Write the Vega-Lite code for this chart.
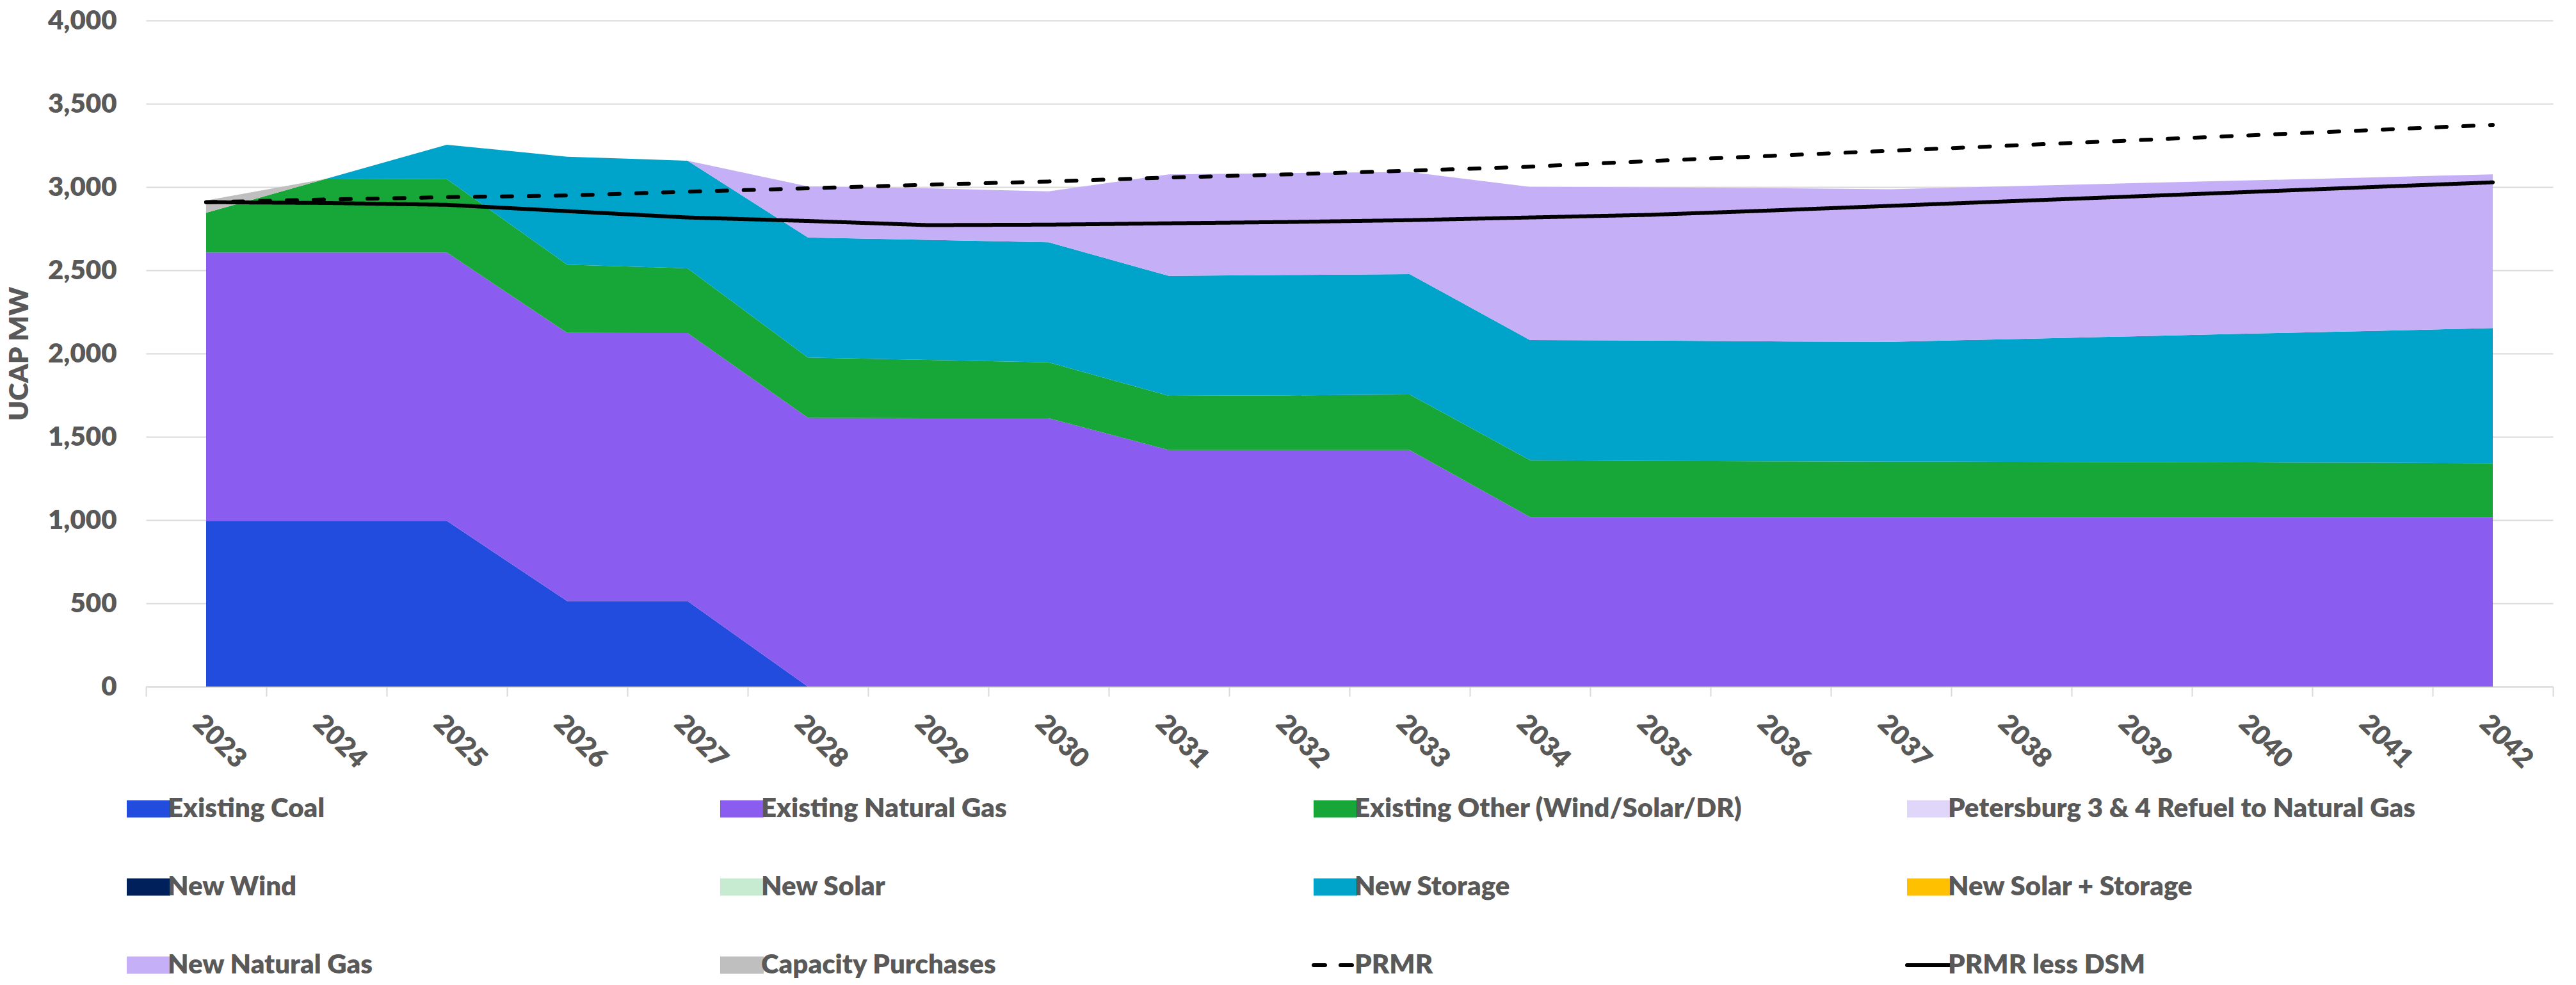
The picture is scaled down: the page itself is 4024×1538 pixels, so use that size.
{
  "$schema": "https://vega.github.io/schema/vega-lite/v6.json",
  "width": 3760,
  "height": 1040,
  "autosize": {"type": "none"},
  "padding": {"left": 228, "top": 32, "right": 36, "bottom": 466},
  "background": "#ffffff",
  "config": {
    "view": {"stroke": null},
    "font": "Lato",
    "axis": {
      "labelFont": "Lato",
      "labelFontSize": 42,
      "labelFontWeight": 800,
      "labelColor": "#595959",
      "titleFont": "Lato",
      "titleFontSize": 42,
      "titleFontWeight": 800,
      "titleColor": "#595959",
      "gridColor": "#D9D9D9",
      "gridWidth": 2,
      "domainColor": "#D9D9D9",
      "domainWidth": 2,
      "tickColor": "#D9D9D9",
      "tickWidth": 2
    },
    "legend": {
      "orient": "none",
      "direction": "horizontal",
      "legendX": -17,
      "legendY": 1210,
      "columns": 4,
      "gridAlign": "all",
      "columnPadding": 120,
      "rowPadding": 80,
      "labelFont": "Lato",
      "labelFontSize": 42,
      "labelFontWeight": 800,
      "labelColor": "#595959",
      "labelOffset": 9,
      "labelLimit": 2000,
      "symbolSize": 4624,
      "symbolType": "M-1,-0.4H1V0.4H-1Z",
      "symbolLimit": 0
    }
  },
  "datasets": {
    "capacity": [
      {"year": "2023", "series": "Existing Coal", "mw": 995},
      {"year": "2024", "series": "Existing Coal", "mw": 995},
      {"year": "2025", "series": "Existing Coal", "mw": 995},
      {"year": "2026", "series": "Existing Coal", "mw": 513},
      {"year": "2027", "series": "Existing Coal", "mw": 513},
      {"year": "2028", "series": "Existing Coal", "mw": 0},
      {"year": "2029", "series": "Existing Coal", "mw": 0},
      {"year": "2030", "series": "Existing Coal", "mw": 0},
      {"year": "2031", "series": "Existing Coal", "mw": 0},
      {"year": "2032", "series": "Existing Coal", "mw": 0},
      {"year": "2033", "series": "Existing Coal", "mw": 0},
      {"year": "2034", "series": "Existing Coal", "mw": 0},
      {"year": "2035", "series": "Existing Coal", "mw": 0},
      {"year": "2036", "series": "Existing Coal", "mw": 0},
      {"year": "2037", "series": "Existing Coal", "mw": 0},
      {"year": "2038", "series": "Existing Coal", "mw": 0},
      {"year": "2039", "series": "Existing Coal", "mw": 0},
      {"year": "2040", "series": "Existing Coal", "mw": 0},
      {"year": "2041", "series": "Existing Coal", "mw": 0},
      {"year": "2042", "series": "Existing Coal", "mw": 0},

      {"year": "2023", "series": "Existing Natural Gas", "mw": 1612},
      {"year": "2024", "series": "Existing Natural Gas", "mw": 1612},
      {"year": "2025", "series": "Existing Natural Gas", "mw": 1612},
      {"year": "2026", "series": "Existing Natural Gas", "mw": 1611},
      {"year": "2027", "series": "Existing Natural Gas", "mw": 1610},
      {"year": "2028", "series": "Existing Natural Gas", "mw": 1614},
      {"year": "2029", "series": "Existing Natural Gas", "mw": 1612},
      {"year": "2030", "series": "Existing Natural Gas", "mw": 1612},
      {"year": "2031", "series": "Existing Natural Gas", "mw": 1420},
      {"year": "2032", "series": "Existing Natural Gas", "mw": 1420},
      {"year": "2033", "series": "Existing Natural Gas", "mw": 1420},
      {"year": "2034", "series": "Existing Natural Gas", "mw": 1018},
      {"year": "2035", "series": "Existing Natural Gas", "mw": 1018},
      {"year": "2036", "series": "Existing Natural Gas", "mw": 1018},
      {"year": "2037", "series": "Existing Natural Gas", "mw": 1018},
      {"year": "2038", "series": "Existing Natural Gas", "mw": 1018},
      {"year": "2039", "series": "Existing Natural Gas", "mw": 1018},
      {"year": "2040", "series": "Existing Natural Gas", "mw": 1018},
      {"year": "2041", "series": "Existing Natural Gas", "mw": 1018},
      {"year": "2042", "series": "Existing Natural Gas", "mw": 1018},

      {"year": "2023", "series": "Existing Other (Wind/Solar/DR)", "mw": 238},
      {"year": "2024", "series": "Existing Other (Wind/Solar/DR)", "mw": 443},
      {"year": "2025", "series": "Existing Other (Wind/Solar/DR)", "mw": 440},
      {"year": "2026", "series": "Existing Other (Wind/Solar/DR)", "mw": 410},
      {"year": "2027", "series": "Existing Other (Wind/Solar/DR)", "mw": 389},
      {"year": "2028", "series": "Existing Other (Wind/Solar/DR)", "mw": 362},
      {"year": "2029", "series": "Existing Other (Wind/Solar/DR)", "mw": 350},
      {"year": "2030", "series": "Existing Other (Wind/Solar/DR)", "mw": 335},
      {"year": "2031", "series": "Existing Other (Wind/Solar/DR)", "mw": 326},
      {"year": "2032", "series": "Existing Other (Wind/Solar/DR)", "mw": 329},
      {"year": "2033", "series": "Existing Other (Wind/Solar/DR)", "mw": 334},
      {"year": "2034", "series": "Existing Other (Wind/Solar/DR)", "mw": 342},
      {"year": "2035", "series": "Existing Other (Wind/Solar/DR)", "mw": 337},
      {"year": "2036", "series": "Existing Other (Wind/Solar/DR)", "mw": 335},
      {"year": "2037", "series": "Existing Other (Wind/Solar/DR)", "mw": 333},
      {"year": "2038", "series": "Existing Other (Wind/Solar/DR)", "mw": 332},
      {"year": "2039", "series": "Existing Other (Wind/Solar/DR)", "mw": 330},
      {"year": "2040", "series": "Existing Other (Wind/Solar/DR)", "mw": 328},
      {"year": "2041", "series": "Existing Other (Wind/Solar/DR)", "mw": 326},
      {"year": "2042", "series": "Existing Other (Wind/Solar/DR)", "mw": 323},

      {"year": "2023", "series": "Petersburg 3 & 4 Refuel to Natural Gas", "mw": 0},
      {"year": "2024", "series": "Petersburg 3 & 4 Refuel to Natural Gas", "mw": 0},
      {"year": "2025", "series": "Petersburg 3 & 4 Refuel to Natural Gas", "mw": 0},
      {"year": "2026", "series": "Petersburg 3 & 4 Refuel to Natural Gas", "mw": 0},
      {"year": "2027", "series": "Petersburg 3 & 4 Refuel to Natural Gas", "mw": 0},
      {"year": "2028", "series": "Petersburg 3 & 4 Refuel to Natural Gas", "mw": 0},
      {"year": "2029", "series": "Petersburg 3 & 4 Refuel to Natural Gas", "mw": 0},
      {"year": "2030", "series": "Petersburg 3 & 4 Refuel to Natural Gas", "mw": 0},
      {"year": "2031", "series": "Petersburg 3 & 4 Refuel to Natural Gas", "mw": 0},
      {"year": "2032", "series": "Petersburg 3 & 4 Refuel to Natural Gas", "mw": 0},
      {"year": "2033", "series": "Petersburg 3 & 4 Refuel to Natural Gas", "mw": 0},
      {"year": "2034", "series": "Petersburg 3 & 4 Refuel to Natural Gas", "mw": 0},
      {"year": "2035", "series": "Petersburg 3 & 4 Refuel to Natural Gas", "mw": 0},
      {"year": "2036", "series": "Petersburg 3 & 4 Refuel to Natural Gas", "mw": 0},
      {"year": "2037", "series": "Petersburg 3 & 4 Refuel to Natural Gas", "mw": 0},
      {"year": "2038", "series": "Petersburg 3 & 4 Refuel to Natural Gas", "mw": 0},
      {"year": "2039", "series": "Petersburg 3 & 4 Refuel to Natural Gas", "mw": 0},
      {"year": "2040", "series": "Petersburg 3 & 4 Refuel to Natural Gas", "mw": 0},
      {"year": "2041", "series": "Petersburg 3 & 4 Refuel to Natural Gas", "mw": 0},
      {"year": "2042", "series": "Petersburg 3 & 4 Refuel to Natural Gas", "mw": 0},

      {"year": "2023", "series": "New Wind", "mw": 0},
      {"year": "2024", "series": "New Wind", "mw": 0},
      {"year": "2025", "series": "New Wind", "mw": 0},
      {"year": "2026", "series": "New Wind", "mw": 0},
      {"year": "2027", "series": "New Wind", "mw": 0},
      {"year": "2028", "series": "New Wind", "mw": 0},
      {"year": "2029", "series": "New Wind", "mw": 0},
      {"year": "2030", "series": "New Wind", "mw": 0},
      {"year": "2031", "series": "New Wind", "mw": 0},
      {"year": "2032", "series": "New Wind", "mw": 0},
      {"year": "2033", "series": "New Wind", "mw": 0},
      {"year": "2034", "series": "New Wind", "mw": 0},
      {"year": "2035", "series": "New Wind", "mw": 0},
      {"year": "2036", "series": "New Wind", "mw": 0},
      {"year": "2037", "series": "New Wind", "mw": 0},
      {"year": "2038", "series": "New Wind", "mw": 0},
      {"year": "2039", "series": "New Wind", "mw": 0},
      {"year": "2040", "series": "New Wind", "mw": 0},
      {"year": "2041", "series": "New Wind", "mw": 0},
      {"year": "2042", "series": "New Wind", "mw": 0},

      {"year": "2023", "series": "New Solar", "mw": 0},
      {"year": "2024", "series": "New Solar", "mw": 0},
      {"year": "2025", "series": "New Solar", "mw": 0},
      {"year": "2026", "series": "New Solar", "mw": 0},
      {"year": "2027", "series": "New Solar", "mw": 0},
      {"year": "2028", "series": "New Solar", "mw": 0},
      {"year": "2029", "series": "New Solar", "mw": 0},
      {"year": "2030", "series": "New Solar", "mw": 0},
      {"year": "2031", "series": "New Solar", "mw": 0},
      {"year": "2032", "series": "New Solar", "mw": 0},
      {"year": "2033", "series": "New Solar", "mw": 0},
      {"year": "2034", "series": "New Solar", "mw": 0},
      {"year": "2035", "series": "New Solar", "mw": 0},
      {"year": "2036", "series": "New Solar", "mw": 0},
      {"year": "2037", "series": "New Solar", "mw": 0},
      {"year": "2038", "series": "New Solar", "mw": 0},
      {"year": "2039", "series": "New Solar", "mw": 0},
      {"year": "2040", "series": "New Solar", "mw": 0},
      {"year": "2041", "series": "New Solar", "mw": 0},
      {"year": "2042", "series": "New Solar", "mw": 0},

      {"year": "2023", "series": "New Storage", "mw": 0},
      {"year": "2024", "series": "New Storage", "mw": 0},
      {"year": "2025", "series": "New Storage", "mw": 207},
      {"year": "2026", "series": "New Storage", "mw": 648},
      {"year": "2027", "series": "New Storage", "mw": 646},
      {"year": "2028", "series": "New Storage", "mw": 721},
      {"year": "2029", "series": "New Storage", "mw": 721},
      {"year": "2030", "series": "New Storage", "mw": 721},
      {"year": "2031", "series": "New Storage", "mw": 720},
      {"year": "2032", "series": "New Storage", "mw": 723},
      {"year": "2033", "series": "New Storage", "mw": 723},
      {"year": "2034", "series": "New Storage", "mw": 721},
      {"year": "2035", "series": "New Storage", "mw": 723},
      {"year": "2036", "series": "New Storage", "mw": 720},
      {"year": "2037", "series": "New Storage", "mw": 719},
      {"year": "2038", "series": "New Storage", "mw": 737},
      {"year": "2039", "series": "New Storage", "mw": 755},
      {"year": "2040", "series": "New Storage", "mw": 774},
      {"year": "2041", "series": "New Storage", "mw": 792},
      {"year": "2042", "series": "New Storage", "mw": 812},

      {"year": "2023", "series": "New Solar + Storage", "mw": 0},
      {"year": "2024", "series": "New Solar + Storage", "mw": 0},
      {"year": "2025", "series": "New Solar + Storage", "mw": 0},
      {"year": "2026", "series": "New Solar + Storage", "mw": 0},
      {"year": "2027", "series": "New Solar + Storage", "mw": 0},
      {"year": "2028", "series": "New Solar + Storage", "mw": 0},
      {"year": "2029", "series": "New Solar + Storage", "mw": 0},
      {"year": "2030", "series": "New Solar + Storage", "mw": 0},
      {"year": "2031", "series": "New Solar + Storage", "mw": 0},
      {"year": "2032", "series": "New Solar + Storage", "mw": 0},
      {"year": "2033", "series": "New Solar + Storage", "mw": 0},
      {"year": "2034", "series": "New Solar + Storage", "mw": 0},
      {"year": "2035", "series": "New Solar + Storage", "mw": 0},
      {"year": "2036", "series": "New Solar + Storage", "mw": 0},
      {"year": "2037", "series": "New Solar + Storage", "mw": 0},
      {"year": "2038", "series": "New Solar + Storage", "mw": 0},
      {"year": "2039", "series": "New Solar + Storage", "mw": 0},
      {"year": "2040", "series": "New Solar + Storage", "mw": 0},
      {"year": "2041", "series": "New Solar + Storage", "mw": 0},
      {"year": "2042", "series": "New Solar + Storage", "mw": 0},

      {"year": "2023", "series": "New Natural Gas", "mw": 0},
      {"year": "2024", "series": "New Natural Gas", "mw": 0},
      {"year": "2025", "series": "New Natural Gas", "mw": 0},
      {"year": "2026", "series": "New Natural Gas", "mw": 0},
      {"year": "2027", "series": "New Natural Gas", "mw": 0},
      {"year": "2028", "series": "New Natural Gas", "mw": 307},
      {"year": "2029", "series": "New Natural Gas", "mw": 309},
      {"year": "2030", "series": "New Natural Gas", "mw": 306},
      {"year": "2031", "series": "New Natural Gas", "mw": 610},
      {"year": "2032", "series": "New Natural Gas", "mw": 612},
      {"year": "2033", "series": "New Natural Gas", "mw": 613},
      {"year": "2034", "series": "New Natural Gas", "mw": 920},
      {"year": "2035", "series": "New Natural Gas", "mw": 920},
      {"year": "2036", "series": "New Natural Gas", "mw": 920},
      {"year": "2037", "series": "New Natural Gas", "mw": 917},
      {"year": "2038", "series": "New Natural Gas", "mw": 918},
      {"year": "2039", "series": "New Natural Gas", "mw": 920},
      {"year": "2040", "series": "New Natural Gas", "mw": 920},
      {"year": "2041", "series": "New Natural Gas", "mw": 922},
      {"year": "2042", "series": "New Natural Gas", "mw": 923},

      {"year": "2023", "series": "Capacity Purchases", "mw": 74},
      {"year": "2024", "series": "Capacity Purchases", "mw": 0},
      {"year": "2025", "series": "Capacity Purchases", "mw": 0},
      {"year": "2026", "series": "Capacity Purchases", "mw": 0},
      {"year": "2027", "series": "Capacity Purchases", "mw": 0},
      {"year": "2028", "series": "Capacity Purchases", "mw": 0},
      {"year": "2029", "series": "Capacity Purchases", "mw": 0},
      {"year": "2030", "series": "Capacity Purchases", "mw": 0},
      {"year": "2031", "series": "Capacity Purchases", "mw": 0},
      {"year": "2032", "series": "Capacity Purchases", "mw": 0},
      {"year": "2033", "series": "Capacity Purchases", "mw": 0},
      {"year": "2034", "series": "Capacity Purchases", "mw": 0},
      {"year": "2035", "series": "Capacity Purchases", "mw": 0},
      {"year": "2036", "series": "Capacity Purchases", "mw": 0},
      {"year": "2037", "series": "Capacity Purchases", "mw": 0},
      {"year": "2038", "series": "Capacity Purchases", "mw": 0},
      {"year": "2039", "series": "Capacity Purchases", "mw": 0},
      {"year": "2040", "series": "Capacity Purchases", "mw": 0},
      {"year": "2041", "series": "Capacity Purchases", "mw": 0},
      {"year": "2042", "series": "Capacity Purchases", "mw": 0}
    ],
    "requirement": [
      {"year": "2023", "series": "PRMR", "mw": 2909},
      {"year": "2024", "series": "PRMR", "mw": 2925},
      {"year": "2025", "series": "PRMR", "mw": 2939},
      {"year": "2026", "series": "PRMR", "mw": 2949},
      {"year": "2027", "series": "PRMR", "mw": 2972},
      {"year": "2028", "series": "PRMR", "mw": 2992},
      {"year": "2029", "series": "PRMR", "mw": 3014},
      {"year": "2030", "series": "PRMR", "mw": 3033},
      {"year": "2031", "series": "PRMR", "mw": 3057},
      {"year": "2032", "series": "PRMR", "mw": 3076},
      {"year": "2033", "series": "PRMR", "mw": 3098},
      {"year": "2034", "series": "PRMR", "mw": 3122},
      {"year": "2035", "series": "PRMR", "mw": 3156},
      {"year": "2036", "series": "PRMR", "mw": 3187},
      {"year": "2037", "series": "PRMR", "mw": 3218},
      {"year": "2038", "series": "PRMR", "mw": 3249},
      {"year": "2039", "series": "PRMR", "mw": 3280},
      {"year": "2040", "series": "PRMR", "mw": 3311},
      {"year": "2041", "series": "PRMR", "mw": 3342},
      {"year": "2042", "series": "PRMR", "mw": 3373},

      {"year": "2023", "series": "PRMR less DSM", "mw": 2909},
      {"year": "2024", "series": "PRMR less DSM", "mw": 2904},
      {"year": "2025", "series": "PRMR less DSM", "mw": 2893},
      {"year": "2026", "series": "PRMR less DSM", "mw": 2855},
      {"year": "2027", "series": "PRMR less DSM", "mw": 2817},
      {"year": "2028", "series": "PRMR less DSM", "mw": 2796},
      {"year": "2029", "series": "PRMR less DSM", "mw": 2771},
      {"year": "2030", "series": "PRMR less DSM", "mw": 2774},
      {"year": "2031", "series": "PRMR less DSM", "mw": 2782},
      {"year": "2032", "series": "PRMR less DSM", "mw": 2790},
      {"year": "2033", "series": "PRMR less DSM", "mw": 2801},
      {"year": "2034", "series": "PRMR less DSM", "mw": 2817},
      {"year": "2035", "series": "PRMR less DSM", "mw": 2833},
      {"year": "2036", "series": "PRMR less DSM", "mw": 2859},
      {"year": "2037", "series": "PRMR less DSM", "mw": 2887},
      {"year": "2038", "series": "PRMR less DSM", "mw": 2915},
      {"year": "2039", "series": "PRMR less DSM", "mw": 2943},
      {"year": "2040", "series": "PRMR less DSM", "mw": 2971},
      {"year": "2041", "series": "PRMR less DSM", "mw": 3000},
      {"year": "2042", "series": "PRMR less DSM", "mw": 3028}
    ]
  },
  "layer": [
    {
      "data": {"name": "capacity"},
      "transform": [
        {
          "calculate": "indexof(['Existing Coal', 'Existing Natural Gas', 'Existing Other (Wind/Solar/DR)', 'Petersburg 3 & 4 Refuel to Natural Gas', 'New Wind', 'New Solar', 'New Storage', 'New Solar + Storage', 'New Natural Gas', 'Capacity Purchases'], datum.series)",
          "as": "stack_rank"
        }
      ],
      "mark": {"type": "area", "interpolate": "linear"},
      "encoding": {
        "x": {
          "field": "year",
          "type": "ordinal",
          "bandPosition": 0.5,
          "scale": {"type": "band", "paddingInner": 0, "paddingOuter": 0},
          "axis": {
            "title": null,
            "labelAngle": 45,
            "tickBand": "extent",
            "tickSize": 15,
            "labelPadding": 22,
            "grid": false,
            "domain": true
          }
        },
        "y": {
          "field": "mw",
          "type": "quantitative",
          "stack": "zero",
          "scale": {"domain": [0, 4000], "nice": false},
          "axis": {
            "title": "UCAP MW",
            "values": [0, 500, 1000, 1500, 2000, 2500, 3000, 3500, 4000],
            "format": ",.0f",
            "ticks": false,
            "tickSize": 0,
            "domain": false,
            "grid": true,
            "labelPadding": 46,
            "titlePadding": 22
          }
        },
        "order": {"field": "stack_rank", "type": "quantitative", "sort": "ascending"},
        "color": {
          "field": "series",
          "type": "nominal",
          "sort": ["Existing Coal", "Existing Natural Gas", "Existing Other (Wind/Solar/DR)", "Petersburg 3 & 4 Refuel to Natural Gas", "New Wind", "New Solar", "New Storage", "New Solar + Storage", "New Natural Gas", "Capacity Purchases", "PRMR", "PRMR less DSM"],
          "scale": {
            "domain": ["Existing Coal", "Existing Natural Gas", "Existing Other (Wind/Solar/DR)", "Petersburg 3 & 4 Refuel to Natural Gas", "New Wind", "New Solar", "New Storage", "New Solar + Storage", "New Natural Gas", "Capacity Purchases", "PRMR", "PRMR less DSM"],
            "range": ["#224CDE", "#8B5CF0", "#17A638", "#E0D6FA", "#00205B", "#C6EBD0", "#00A3C9", "#FFC000", "#C5AFF7", "#BFBFBF", "#000000", "#000000"]
          },
          "legend": {
            "title": null,
            "encode": {
              "symbols": {
                "update": {
                  "shape": {"signal": "indexof(['PRMR', 'PRMR less DSM'], datum.value) >= 0 ? 'stroke' : 'M-1,-0.4H1V0.4H-1Z'"},
                  "stroke": {"signal": "indexof(['PRMR', 'PRMR less DSM'], datum.value) >= 0 ? '#000000' : 'transparent'"},
                  "strokeWidth": {"signal": "indexof(['PRMR', 'PRMR less DSM'], datum.value) >= 0 ? 6 : 0"},
                  "strokeDash": {"signal": "datum.value === 'PRMR' ? [18, 24] : [1, 0]"},
                  "strokeCap": {"value": "round"},
                  "opacity": {"value": 1},
                  "fillOpacity": {"value": 1},
                  "size": {"value": 4624}
                }
              }
            }
          }
        }
      }
    },
    {
      "data": {"name": "requirement"},
      "mark": {"type": "line", "strokeWidth": 6, "strokeCap": "round", "strokeJoin": "round"},
      "encoding": {
        "x": {"field": "year", "type": "ordinal", "bandPosition": 0.5},
        "y": {"field": "mw", "type": "quantitative"},
        "color": {"field": "series", "type": "nominal"},
        "strokeDash": {
          "field": "series",
          "type": "nominal",
          "scale": {"domain": ["PRMR", "PRMR less DSM"], "range": [[16, 26], [1, 0]]},
          "legend": null
        }
      }
    }
  ]
}
